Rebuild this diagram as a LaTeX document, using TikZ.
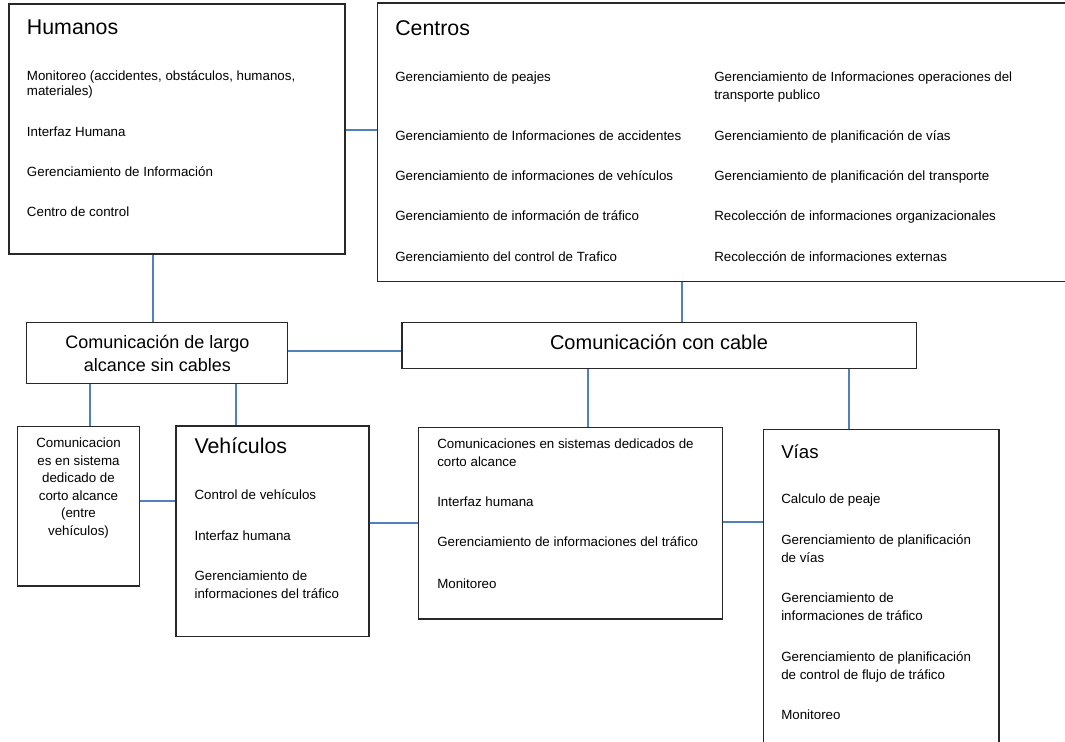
\documentclass[tikz,border=0pt]{standalone}
\usepackage{fontspec}
\setmainfont{Liberation Sans}
\usetikzlibrary{fit}
\definecolor{linkblue}{RGB}{79,129,189}
\definecolor{boxgray}{RGB}{40,40,40}
\tikzset{
  box/.style={draw=boxgray,line width=1.1pt,inner sep=0pt},
  link/.style={draw=linkblue,line width=1.3pt},
  item/.style={font=\fontsize{10}{13.3}\selectfont,anchor=base west,inner sep=0pt,align=left},
  itemc/.style={font=\fontsize{10}{13.1}\selectfont,anchor=base,inner sep=0pt,align=center},
  title/.style={font=\fontsize{16}{19}\selectfont,anchor=base west,inner sep=0pt},
}
\begin{document}
\begin{tikzpicture}[x=0.75pt,y=-0.75pt]
\clip (0,0) rectangle (1065,742);
\fill[white] (0,0) rectangle (1065,742);

\node[box,fit={(9,4) (345,254)}] (hum) {};
\node[box,fit={(377.5,3) (1090,281.5)}] (cen) {};
\node[box,fit={(26.7,322.7) (287.3,383.3)}] (largo) {};
\node[box,fit={(402,322.7) (916.7,368.7)}] (cable) {};
\node[box,fit={(17.7,426.5) (139.3,586)}] (ded) {};
\node[box,fit={(176,426) (369,636.7)}] (veh) {};
\node[box,fit={(418.6,427.7) (722.5,619)}] (mid) {};
\node[box,fit={(763.5,429.5) (999,770)}] (vias) {};

\node[title] (humt) at (26.7,34.5) {Humanos};
\node[item,font=\fontsize{10}{11.25}\selectfont] (hum1) at (26.7,95.7) {Monitoreo (accidentes, obstáculos, humanos,\\materiales)};
\node[item] (hum2) at (26.7,136.3) {Interfaz Humana};
\node[item] (hum3) at (26.7,176.7) {Gerenciamiento de Información};
\node[item] (hum4) at (26.7,216.3) {Centro de control};

\node[title] (cent) at (395,35.8) {Centros};
\node[item] (cen1) at (395,81.7) {Gerenciamiento de peajes};
\node[item] (cen2) at (395,140.7) {Gerenciamiento de Informaciones de accidentes};
\node[item] (cen3) at (395,180.7) {Gerenciamiento de informaciones de vehículos};
\node[item] (cen4) at (395,220.7) {Gerenciamiento de información de tráfico};
\node[item] (cen5) at (395,261.7) {Gerenciamiento del control de Trafico};
\node[item,font=\fontsize{10}{13.5}\selectfont] (cen6) at (714,99.7) {Gerenciamiento de Informaciones operaciones del\\transporte publico};
\node[item] (cen7) at (714,140.7) {Gerenciamiento de planificación de vías};
\node[item] (cen8) at (714,180.7) {Gerenciamiento de planificación del transporte};
\node[item] (cen9) at (714,220.7) {Recolección de informaciones organizacionales};
\node[item] (cen10) at (714,261.7) {Recolección de informaciones externas};

\node[itemc,font=\fontsize{13.5}{17.25}\selectfont] (largot) at (157.5,371) {Comunicación de largo\\alcance sin cables};
\node[itemc,font=\fontsize{15}{18}\selectfont] (cablet) at (659,349.3) {Comunicación con cable};

\node[itemc] (dedt) at (78.5,535.3) {Comunicacion\\es en sistema\\dedicado de\\corto alcance\\(entre\\vehículos)};

\node[title] (veht) at (194.3,453.5) {Vehículos};
\node[item] (veh1) at (194.3,499) {Control de vehículos};
\node[item] (veh2) at (194.3,540.7) {Interfaz humana};
\node[item] (veh3) at (194.3,598.4) {Gerenciamiento de\\informaciones del tráfico};

\node[item] (mid1) at (437,466.7) {Comunicaciones en sistemas dedicados de\\corto alcance};
\node[item] (mid2) at (437,506.3) {Interfaz humana};
\node[item] (mid3) at (437,546.3) {Gerenciamiento de informaciones del tráfico};
\node[item] (mid4) at (437,588) {Monitoreo};

\node[title,font=\fontsize{14}{17}\selectfont] (viast) at (781,458.8) {Vías};
\node[item] (vias1) at (781,503.3) {Calculo de peaje};
\node[item,font=\fontsize{10}{13.5}\selectfont] (vias2) at (781,562.7) {Gerenciamiento de planificación\\de vías};
\node[item,font=\fontsize{10}{13.5}\selectfont] (vias3) at (781,620.3) {Gerenciamiento de\\informaciones de tráfico};
\node[item,font=\fontsize{10}{13.5}\selectfont] (vias4) at (781,679.7) {Gerenciamiento de planificación\\de control de flujo de tráfico};
\node[item] (vias5) at (781,719.7) {Monitoreo};

\coordinate (xhum) at (153,0);
\coordinate (xcen) at (682.2,0);
\coordinate (xded) at (90.2,0);
\coordinate (xveh) at (236,0);
\coordinate (xmid) at (588,0);
\coordinate (xvias) at (849,0);
\coordinate (yhum) at (0,130);
\coordinate (ylargo) at (0,350.7);
\coordinate (yded) at (0,501);
\coordinate (yveh) at (0,523);
\coordinate (ymid) at (0,522.3);

\draw[link] (hum.east |- yhum) -- (cen.west |- yhum);
\draw[link] (hum.south -| xhum) -- (largo.north -| xhum);
\draw[link] (cen.south -| xcen) -- (cable.north -| xcen);
\draw[link] (largo.east |- ylargo) -- (cable.west |- ylargo);
\draw[link] (largo.south -| xded) -- (ded.north -| xded);
\draw[link] (largo.south -| xveh) -- (veh.north -| xveh);
\draw[link] (ded.east |- yded) -- (veh.west |- yded);
\draw[link] (veh.east |- yveh) -- (mid.west |- yveh);
\draw[link] (cable.south -| xmid) -- (mid.north -| xmid);
\draw[link] (cable.south -| xvias) -- (vias.north -| xvias);
\draw[link] (mid.east |- ymid) -- (vias.west |- ymid);
\end{tikzpicture}
\end{document}
